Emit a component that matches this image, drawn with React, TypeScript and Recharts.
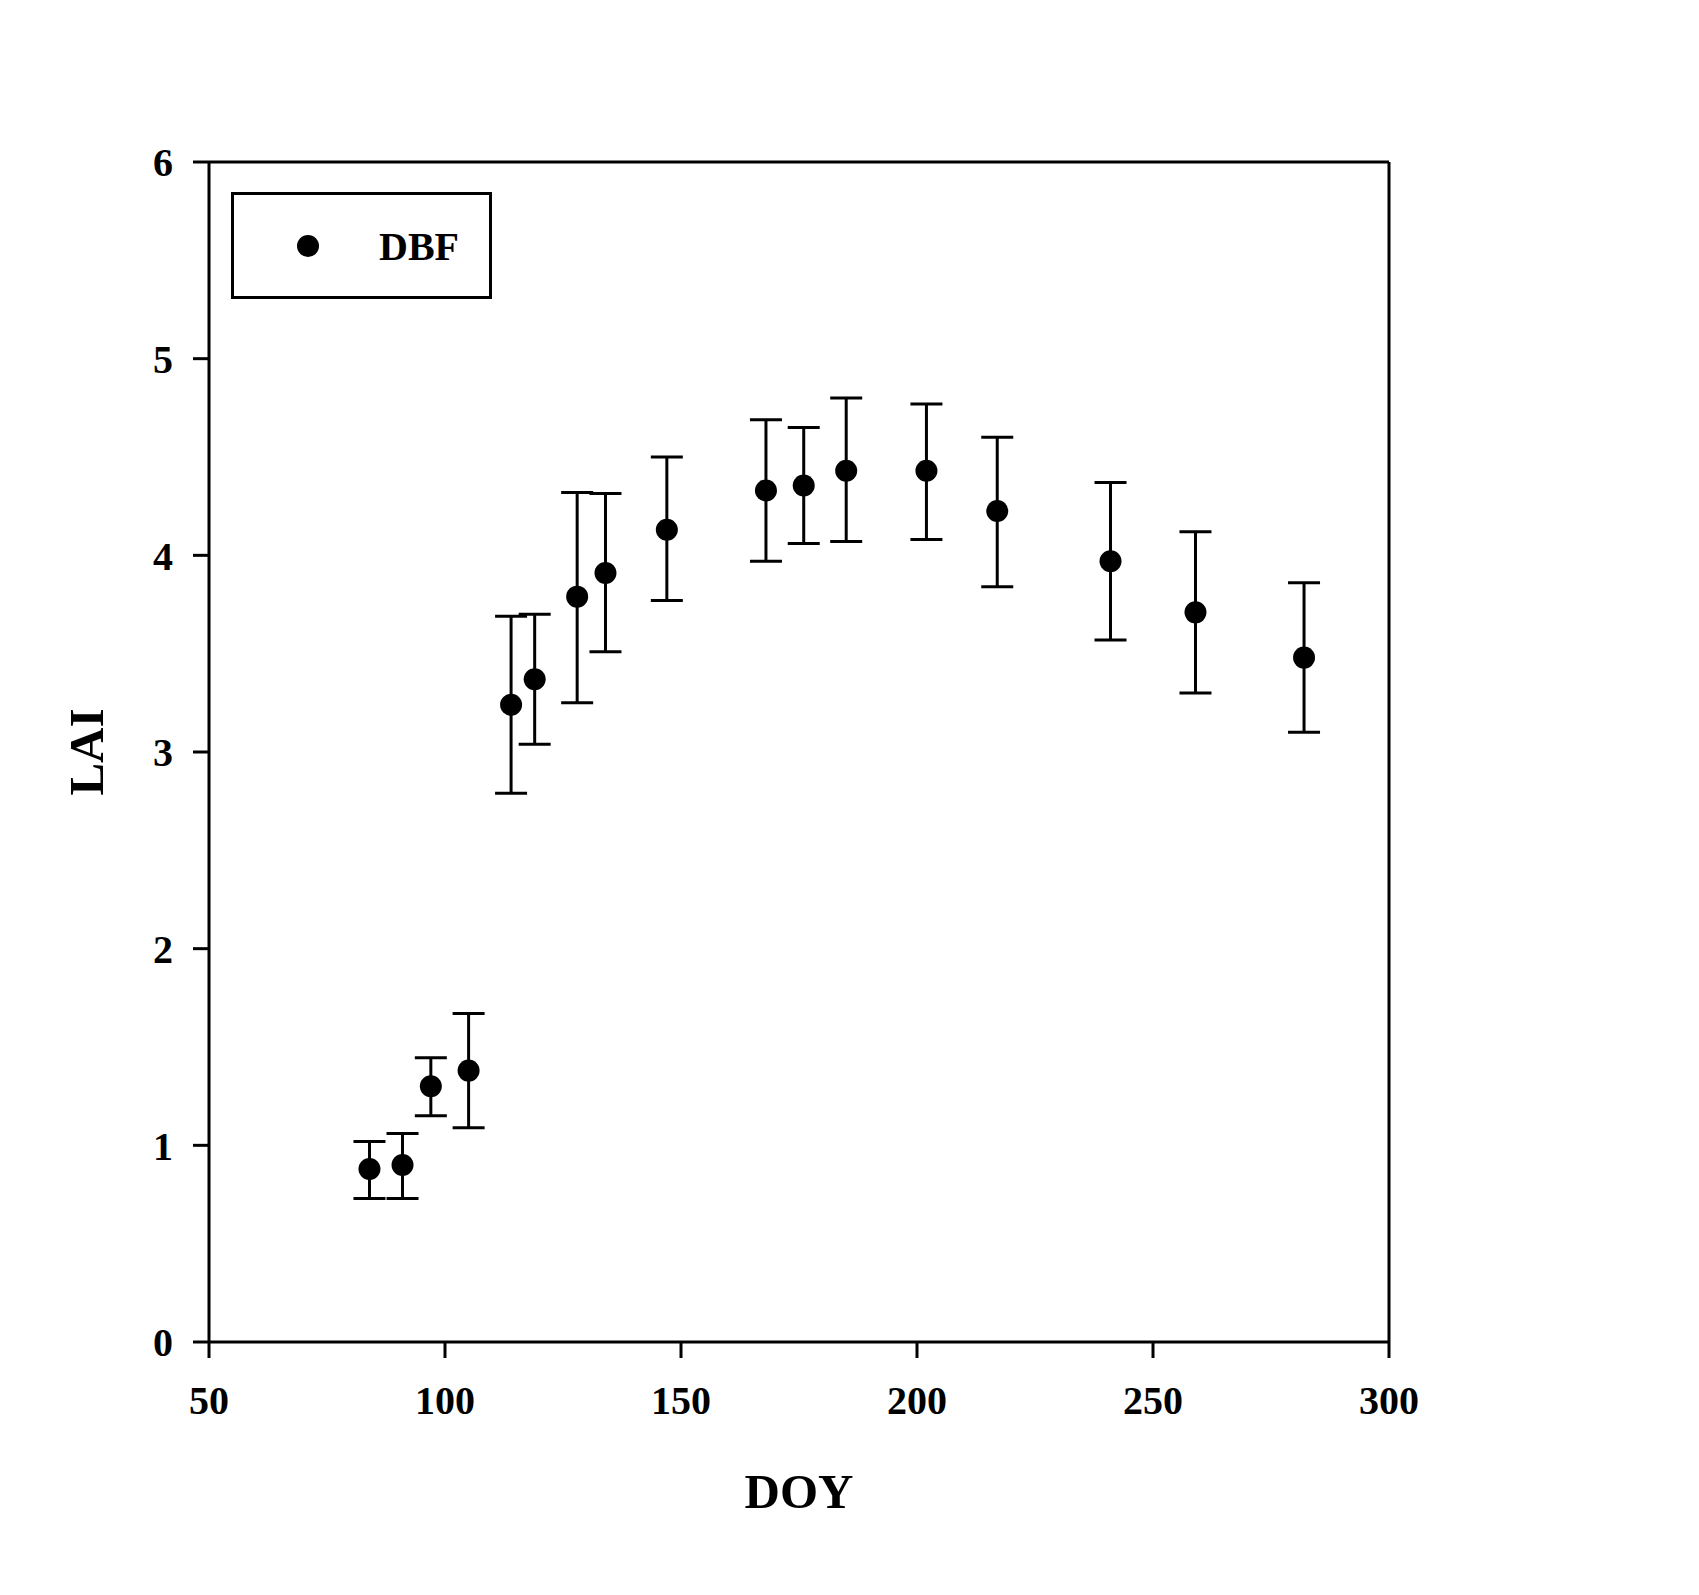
import React from "react";
import {
  ScatterChart,
  Scatter,
  XAxis,
  YAxis,
  ErrorBar,
  ReferenceLine,
  Legend,
} from "recharts";

const doy = [84, 91, 97, 105, 114, 119, 128, 134, 147, 168, 176, 185, 202, 217, 241, 259, 282];
const lai = [0.88, 0.9, 1.3, 1.38, 3.24, 3.37, 3.79, 3.91, 4.13, 4.33, 4.355, 4.43, 4.43, 4.225, 3.97, 3.71, 3.48];
const laiUpper = [1.02, 1.06, 1.445, 1.67, 3.69, 3.7, 4.32, 4.315, 4.5, 4.69, 4.65, 4.8, 4.77, 4.6, 4.37, 4.12, 3.86];
const laiLower = [0.73, 0.73, 1.15, 1.09, 2.79, 3.04, 3.25, 3.51, 3.77, 3.97, 4.06, 4.07, 4.08, 3.84, 3.57, 3.3, 3.1];

const xTicks = [50, 100, 150, 200, 250, 300];
const yTicks = [0, 1, 2, 3, 4, 5, 6];
const seriesName = "DBF";

const data = doy.map((d, i) => ({
  x: d,
  y: lai[i],
  err: [lai[i] - laiLower[i], laiUpper[i] - lai[i]],
}));

const font = "'Liberation Serif', 'Times New Roman', serif";
const tickStyle = { fontFamily: font, fontWeight: "bold", fontSize: 40, fill: "#000" };

const Dot = (props: any) => <circle cx={props.cx} cy={props.cy} r={11} fill="#000" />;

const LegendBox = () => (
  <div
    style={{
      width: 255,
      height: 101,
      border: "3px solid #000",
      position: "relative",
      background: "#fff",
    }}
  >
    <svg width={255} height={101} style={{ position: "absolute", left: 0, top: 0 }}>
      <circle cx={74} cy={51} r={11} fill="#000" />
      <text x={145} y={65} fontFamily={font} fontWeight="bold" fontSize={40} fill="#000">
        {seriesName}
      </text>
    </svg>
  </div>
);

export default function App() {
  return (
    <div style={{ position: "absolute", left: 0, top: 0, background: "#fff" }}>
      <ScatterChart
        width={1699}
        height={1595}
        margin={{ top: 162, right: 310, bottom: 0, left: 0 }}
      >
        <XAxis
          type="number"
          dataKey="x"
          domain={[50, 300]}
          ticks={xTicks}
          interval={0}
          height={253}
          axisLine={{ stroke: "#000", strokeWidth: 3 }}
          tickLine={{ stroke: "#000", strokeWidth: 3 }}
          tickSize={16}
          tickMargin={28}
          tick={tickStyle}
          label={{
            content: (p: any) => {
              const vb = p.viewBox;
              return (
                <text
                  x={vb.x + vb.width / 2}
                  y={vb.y + 166}
                  textAnchor="middle"
                  fontFamily={font}
                  fontWeight="bold"
                  fontSize={49}
                  fill="#000"
                >
                  DOY
                </text>
              );
            },
          }}
        />
        <YAxis
          type="number"
          dataKey="y"
          domain={[0, 6]}
          ticks={yTicks}
          interval={0}
          width={209}
          axisLine={{ stroke: "#000", strokeWidth: 3 }}
          tickLine={{ stroke: "#000", strokeWidth: 3 }}
          tickSize={16}
          tickMargin={20}
          tick={tickStyle}
          label={{
            content: (p: any) => {
              const vb = p.viewBox;
              const cx = 103;
              const cy = vb.y + vb.height / 2;
              return (
                <text
                  x={cx}
                  y={cy}
                  textAnchor="middle"
                  transform={`rotate(-90, ${cx}, ${cy})`}
                  fontFamily={font}
                  fontWeight="bold"
                  fontSize={49}
                  fill="#000"
                >
                  LAI
                </text>
              );
            },
          }}
        />
        <ReferenceLine y={6} stroke="#000" strokeWidth={3} />
        <ReferenceLine x={300} stroke="#000" strokeWidth={3} />
        <Legend
          layout="vertical"
          align="center"
          verticalAlign="middle"
          content={() => <LegendBox />}
          wrapperStyle={{ position: "absolute", left: 231, top: 192, width: 261, height: 107, transform: "none" }}
        />
        <Scatter name={seriesName} data={data} fill="#000" shape={Dot} isAnimationActive={false}>
          <ErrorBar dataKey="err" direction="y" width={16} stroke="#000" strokeWidth={3} />
        </Scatter>
      </ScatterChart>
    </div>
  );
}
